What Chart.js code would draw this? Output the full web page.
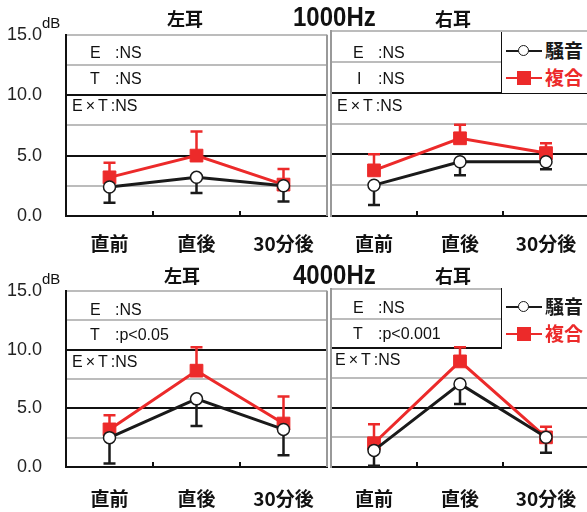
<!DOCTYPE html>
<html>
<head>
<meta charset="utf-8">
<script src="https://cdn.jsdelivr.net/npm/chart.js@4.4.1/dist/chart.umd.min.js"></script>
<style>
  body { margin: 0; width: 587px; height: 512px; overflow: hidden; background: #fff; position: relative;
         font-family: "Liberation Sans", Arial, sans-serif; color: #111; }
  .pane { position: absolute; }
  .t { position: absolute; white-space: nowrap; line-height: 1; transform: translateY(-50%); }
  .jp { font-family: "Noto Sans CJK JP", sans-serif; font-weight: bold; font-size: 18px; }
  .hz { font-size: 24px; font-weight: bold; transform: translateY(-50%) scaleY(1.12); }
  .db { font-size: 15px; }
  .st { font-size: 16px; }
  .st .k { display: inline-block; width: 25px; }
  .ext .sp { letter-spacing: 3px; }
  .legend { position: absolute; background: #fff; border-left: 1.5px solid #111; width: 90px; }
  .legend .row { position: absolute; left: 4px; width: 86px; height: 20px; transform: translateY(-50%); }
  .legend .ln { position: absolute; left: 0; top: 9px; width: 36px; height: 2px; }
  .legend .mk { position: absolute; }
  .legend .lb { position: absolute; left: 39px; top: -1px; white-space: nowrap; font-family: "Noto Sans CJK JP", sans-serif;
                font-weight: bold; font-size: 19px; line-height: 1; }
</style>
</head>
<body>
<script>
const categories = ['直前', '直後', '30分後'];
const seriesNames = ['騒音', '複合'];

// 1000Hz 左耳
const noise1000L = [2.4, 3.2, 2.5];
const noise1000LSd = [1.3, 1.3, 1.3];
const combo1000L = [3.2, 5.0, 2.6];
const combo1000LSd = [1.2, 2.0, 1.3];
// 1000Hz 右耳
const noise1000R = [2.5, 4.4, 4.4];
const noise1000RSd = [1.6, 1.1, 0.6];
const combo1000R = [3.7, 6.3, 5.1];
const combo1000RSd = [1.3, 1.1, 0.8];
// 4000Hz 左耳
const noise4000L = [2.5, 5.8, 3.2];
const noise4000LSd = [2.2, 2.3, 2.2];
const combo4000L = [3.2, 8.2, 3.7];
const combo4000LSd = [1.2, 2.0, 2.3];
// 4000Hz 右耳
const noise4000R = [1.4, 7.0, 2.5];
const noise4000RSd = [1.3, 1.7, 1.3];
const combo4000R = [2.0, 8.9, 2.5];
const combo4000RSd = [1.6, 1.2, 0.9];

const stats1000L = [['E', ':NS'], ['T', ':NS']];
const stats1000R = [['E', ':NS'], ['I', ':NS']];
const stats4000L = [['E', ':NS'], ['T', ':p<0.05']];
const stats4000R = [['E', ':NS'], ['T', ':p<0.001']];

const BLACK = '#1a1a1a';
const RED = '#ec2a2a';

function addText(cls, text, x, y) {
  const d = document.createElement('div');
  d.className = 't ' + cls;
  d.style.left = x + 'px';
  d.style.top = y + 'px';
  d.innerHTML = text;
  document.body.appendChild(d);
  return d;
}

// error bars + inner tick marks + right border
const panelDeco = {
  id: 'panelDeco',
  beforeDatasetsDraw(chart) {
    const ctx = chart.ctx, y = chart.scales.y;
    chart.data.datasets.forEach((ds, i) => {
      const meta = chart.getDatasetMeta(i);
      ctx.save();
      ctx.strokeStyle = ds.borderColor;
      ctx.lineWidth = 2.5;
      meta.data.forEach((pt, j) => {
        const y0 = y.getPixelForValue(ds.data[j]);
        const y1 = y.getPixelForValue(ds.data[j] + ds.errorDir * ds.errors[j]);
        ctx.beginPath();
        ctx.moveTo(pt.x, y0); ctx.lineTo(pt.x, y1);
        ctx.moveTo(pt.x - 6, y1); ctx.lineTo(pt.x + 6, y1);
        ctx.stroke();
      });
      ctx.restore();
    });
  },
  afterDraw(chart, args, opts) {
    const ctx = chart.ctx, x = chart.scales.x, a = chart.chartArea;
    ctx.save();
    ctx.strokeStyle = '#111';
    ctx.lineWidth = 2;
    for (let i = 1; i < categories.length; i++) {
      const px = Math.round((x.getPixelForValue(i - 1) + x.getPixelForValue(i)) / 2);
      ctx.beginPath();
      ctx.moveTo(px, a.bottom); ctx.lineTo(px, a.bottom - 5);
      ctx.stroke();
    }
    if (opts.rightBorder) {
      ctx.strokeStyle = '#999';
      ctx.beginPath();
      ctx.moveTo(a.right, a.top); ctx.lineTo(a.right, a.bottom);
      ctx.stroke();
    }
    ctx.restore();
  }
};

function makePanel(p) {
  const div = document.createElement('div');
  div.className = 'pane';
  Object.assign(div.style, { left: p.left + 'px', top: p.top + 'px', width: p.width + 'px', height: p.height + 'px' });
  const cv = document.createElement('canvas');
  div.appendChild(cv);
  document.body.appendChild(div);

  new Chart(cv, {
    type: 'line',
    data: {
      labels: categories,
      datasets: [
        {
          label: seriesNames[0], data: p.noise, errors: p.noiseSd, errorDir: -1,
          borderColor: BLACK, borderWidth: 3, tension: 0,
          pointStyle: 'circle', pointRadius: 6, pointBackgroundColor: '#fff',
          pointBorderColor: BLACK, pointBorderWidth: 1.5
        },
        {
          label: seriesNames[1], data: p.combo, errors: p.comboSd, errorDir: 1,
          borderColor: RED, borderWidth: 3, tension: 0,
          pointStyle: 'rect', pointRadius: 9, pointBackgroundColor: RED,
          pointBorderColor: RED, pointBorderWidth: 1
        }
      ]
    },
    options: {
      responsive: true,
      maintainAspectRatio: false,
      animation: false,
      events: [],
      layout: { autoPadding: false, padding: { top: p.padTop, right: p.padRight, left: 0, bottom: 0 } },
      plugins: {
        legend: { display: false },
        tooltip: { enabled: false },
        panelDeco: { rightBorder: p.rightBorder }
      },
      scales: {
        x: {
          offset: true,
          grid: { display: false, drawTicks: false },
          border: { display: true, color: '#111', width: 2 },
          ticks: {
            color: '#111', padding: p.xPad, maxRotation: 0,
            font: { family: '"Noto Sans CJK JP"', weight: 'bold', size: 19 }
          },
          afterFit: s => { s.height = p.xHeight; s.paddingLeft = 0; s.paddingRight = 0; }
        },
        y: {
          min: 0, max: 15,
          grid: {
            drawTicks: false, lineWidth: 2,
            color: c => {
              const v = c.tick.value;
              if (v === 0) return 'rgba(0,0,0,0)';
              return (v === 5 || v === 10) ? '#111' : '#bcbcbc';
            }
          },
          border: { display: true, color: p.showY ? '#111' : '#999', width: 2 },
          ticks: {
            display: p.showY, stepSize: 2.5, autoSkip: false, padding: 24, color: '#222',
            font: { family: '"Liberation Sans"', size: 18 },
            callback: v => (v % 5 === 0 ? v.toFixed(1) : '')
          },
          afterFit: s => { s.width = p.yWidth; }
        }
      }
    },
    plugins: [panelDeco]
  });
}

function addStats(stats, ex, ey, rowGap, extX, extY) {
  stats.forEach((s, i) => {
    addText('st', '<span class="k"' + (s[0] === 'I' ? ' style="padding-left:4px;width:21px"' : '') + '>' + s[0] + '</span>' + s[1],
      ex, ey + i * rowGap);
  });
  addText('st ext', '<span class="sp">E×T</span>:NS', extX, extY);
}

function addLegend(top, bottom) {
  const lg = document.createElement('div');
  lg.className = 'legend';
  lg.style.left = '501px';
  lg.style.top = top + 'px';
  lg.style.height = (bottom - top) + 'px';
  const h = bottom - top;
  const rows = [
    { name: seriesNames[0], color: BLACK, cy: h * 0.31, mk: '<div class="mk" style="left:12px;top:4px;width:9px;height:9px;border:1.5px solid ' + BLACK + ';border-radius:50%;background:#fff"></div>' },
    { name: seriesNames[1], color: RED, cy: h * 0.76, mk: '<div class="mk" style="left:11px;top:3px;width:14px;height:14px;background:' + RED + '"></div>' }
  ];
  rows.forEach(r => {
    const row = document.createElement('div');
    row.className = 'row';
    row.style.top = r.cy + 'px';
    row.innerHTML = '<div class="ln" style="background:' + r.color + '"></div>' + r.mk +
      '<div class="lb" style="color:' + r.color + '">' + r.name + '</div>';
    lg.appendChild(row);
  });
  document.body.appendChild(lg);
}

// top row: 1000Hz
makePanel({ left: 0, top: 0, width: 330, height: 258, padTop: 31, padRight: 3, yWidth: 66, xHeight: 42, xPad: 16,
  showY: true, rightBorder: true, noise: noise1000L, noiseSd: noise1000LSd, combo: combo1000L, comboSd: combo1000LSd });
makePanel({ left: 329, top: 0, width: 260, height: 258, padTop: 31, padRight: 0, yWidth: 2, xHeight: 42, xPad: 16,
  showY: false, rightBorder: false, noise: noise1000R, noiseSd: noise1000RSd, combo: combo1000R, comboSd: combo1000RSd });
// bottom row: 4000Hz
makePanel({ left: 0, top: 256, width: 330, height: 256, padTop: 33, padRight: 3, yWidth: 66, xHeight: 45, xPad: 20,
  showY: true, rightBorder: true, noise: noise4000L, noiseSd: noise4000LSd, combo: combo4000L, comboSd: combo4000LSd });
makePanel({ left: 329, top: 256, width: 260, height: 256, padTop: 33, padRight: 0, yWidth: 2, xHeight: 45, xPad: 20,
  showY: false, rightBorder: false, noise: noise4000R, noiseSd: noise4000RSd, combo: combo4000R, comboSd: combo4000RSd });

// titles
addText('jp', '左耳', 167, 18);
addText('hz', '1000Hz', 293, 17);
addText('jp', '右耳', 435, 18);
addText('db', 'dB', 42, 22);
addText('jp', '左耳', 164, 275);
addText('hz', '4000Hz', 293, 275);
addText('jp', '右耳', 435, 275);
addText('db', 'dB', 42, 278);

// statistics
addStats(stats1000L, 90, 53, 26, 72, 106);
addStats(stats1000R, 353, 53, 26, 337, 106);
addStats(stats4000L, 90, 310, 25, 72, 362);
addStats(stats4000R, 353, 308, 26, 335, 360);

addLegend(32, 93);
addLegend(288, 349);
</script>
</body>
</html>
